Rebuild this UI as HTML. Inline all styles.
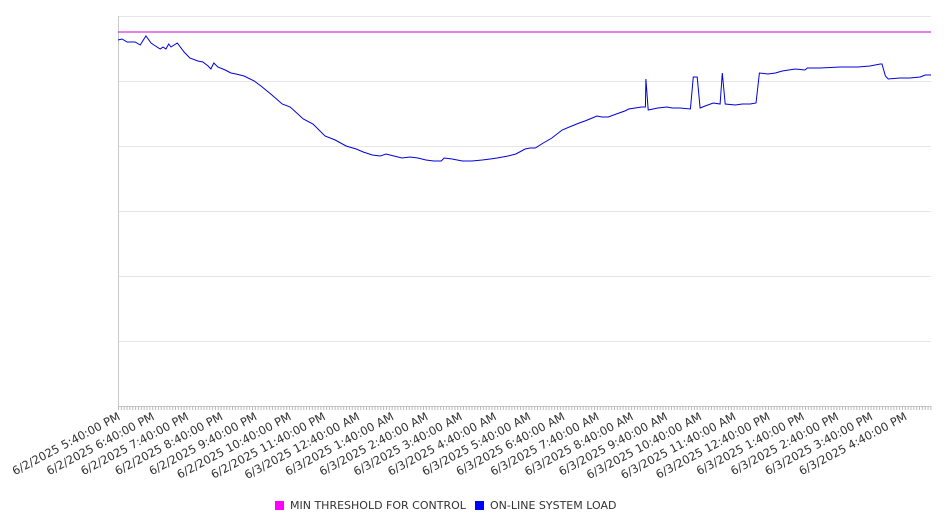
<!DOCTYPE html>
<html><head><meta charset="utf-8"><style>
body{margin:0;background:#fff;width:946px;height:526px;overflow:hidden;font-family:"DejaVu Sans","Liberation Sans",sans-serif;}
</style></head><body>
<svg id="chart" width="946" height="526" xmlns="http://www.w3.org/2000/svg"></svg>
<script>
const times=[0,7,16,30,39,49,58,63,74,79,84,89,93,104,116,126,140,149,158,163,168,175,188,198,207,221,239,253,270,288,302,325,342,363,381,400,418,430,446,460,470,484,498,512,526,540,554,567,572,586,604,621,639,653,665,684,698,714,723,732,746,761,779,796,809,819,832,840,849,860,874,889,896,907,919,925,926,930,947,963,972,986,1004,1009,1016,1021,1030,1044,1056,1060,1065,1083,1095,1102,1109,1119,1125,1140,1153,1165,1188,1205,1209,1232,1267,1298,1319,1337,1340,1346,1351,1372,1389,1407,1416,1426];
const loadValues=[3660,3670,3640,3640,3610,3700,3630,3610,3570,3590,3570,3620,3590,3630,3540,3480,3450,3440,3400,3370,3430,3390,3360,3330,3320,3300,3250,3190,3110,3020,2990,2870,2820,2700,2660,2600,2570,2540,2510,2500,2520,2500,2480,2490,2480,2460,2450,2450,2480,2470,2450,2450,2460,2470,2480,2500,2520,2570,2580,2580,2630,2680,2760,2800,2830,2850,2880,2900,2890,2890,2920,2950,2970,2980,2990,2990,3270,2960,2980,2990,2980,2980,2970,3290,3290,2980,3000,3030,3020,3330,3020,3010,3020,3020,3020,3030,3330,3320,3330,3350,3370,3360,3380,3380,3390,3390,3400,3420,3420,3300,3270,3280,3280,3290,3310,3310];
const thresholdValue=3740;
const tickLabels=["6/2/2025 5:40:00 PM","6/2/2025 6:40:00 PM","6/2/2025 7:40:00 PM","6/2/2025 8:40:00 PM","6/2/2025 9:40:00 PM","6/2/2025 10:40:00 PM","6/2/2025 11:40:00 PM","6/3/2025 12:40:00 AM","6/3/2025 1:40:00 AM","6/3/2025 2:40:00 AM","6/3/2025 3:40:00 AM","6/3/2025 4:40:00 AM","6/3/2025 5:40:00 AM","6/3/2025 6:40:00 AM","6/3/2025 7:40:00 AM","6/3/2025 8:40:00 AM","6/3/2025 9:40:00 AM","6/3/2025 10:40:00 AM","6/3/2025 11:40:00 AM","6/3/2025 12:40:00 PM","6/3/2025 1:40:00 PM","6/3/2025 2:40:00 PM","6/3/2025 3:40:00 PM","6/3/2025 4:40:00 PM"];
const gridValues=[0,650,1300,1950,2600,3250,3900];

const svg=document.getElementById('chart');
const NS='http://www.w3.org/2000/svg';
const X0=118,X1=931,Y0=406,Y1=16,TMAX=1426,VMAX=3900;
const xs=t=>X0+(t/TMAX)*(X1-X0);
const ys=v=>Y0-(v/VMAX)*(Y0-Y1);
function mk(tag,attrs){const e=document.createElementNS(NS,tag);for(const k in attrs)e.setAttribute(k,attrs[k]);svg.appendChild(e);return e;}

gridValues.forEach(v=>{
  const g=mk('line',{x1:X0,x2:X1,y1:ys(v)+0.5,y2:ys(v)+0.5,stroke:'#e6e6e6','stroke-width':1});
  
  
});
const ax=mk('line',{x1:X0+0.5,x2:X0+0.5,y1:Y1,y2:Y0+4,stroke:'#c8c8c8','stroke-width':1});


const bx=mk('line',{x1:X0,x2:X1,y1:Y0+0.5,y2:Y0+0.5,stroke:'#c8c8c8','stroke-width':1});


for(let t=0;t<=TMAX;t+=5){
  const tk=mk('line',{x1:xs(t)+0.5,x2:xs(t)+0.5,y1:Y0,y2:Y0+4,stroke:'#bbb','stroke-width':1});
  
  
}
tickLabels.forEach((lab,i)=>{
  const x=xs(i*60)+3,y=Y0+13;
  const tx=mk('text',{x:x,y:y,'text-anchor':'end','font-size':'11.5',fill:'#333',transform:`rotate(-28 ${x} ${y})`});
  tx.textContent=lab;
  
  
});
const th=mk('line',{x1:X0,x2:X1,y1:ys(thresholdValue),y2:ys(thresholdValue),stroke:'#cc00cc','stroke-width':1});


const pts=times.map((t,i)=>xs(t).toFixed(1)+','+ys(loadValues[i]).toFixed(1)).join(' ');
const ln=mk('polyline',{points:pts,fill:'none',stroke:'#0000dd','stroke-width':1});


</script>
<div style="position:absolute;left:0;top:499px;width:946px;font-size:11px;color:#333;">
<span style="position:absolute;left:275px;top:2px;width:9px;height:9px;background:#ff00ff"></span>
<span style="position:absolute;left:290px;top:0">MIN THRESHOLD FOR CONTROL</span>
<span style="position:absolute;left:475px;top:2px;width:9px;height:9px;background:#0000ff"></span>
<span style="position:absolute;left:490px;top:0">ON-LINE SYSTEM LOAD</span>
</div>
</body></html>
